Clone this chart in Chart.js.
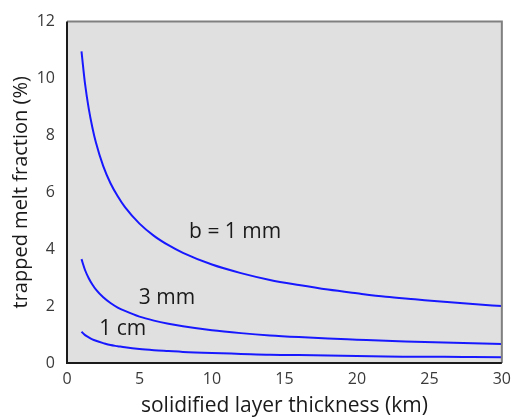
<!DOCTYPE html>
<html>
<head>
<meta charset="utf-8">
<script src="https://cdn.jsdelivr.net/npm/chart.js@4.4.0/dist/chart.umd.min.js"></script>
<style>
    html, body { margin: 0; padding: 0; background: #fff; }
    #wrap { width: 518px; height: 417px; }
</style>
</head>
<body>
<div id="wrap"><canvas id="chartMelt" width="518" height="417"></canvas></div>
<script>
// layer thickness (km)
const thickness = [1, 1.25, 1.5, 1.75, 2, 2.5, 3, 3.5, 4, 5, 6, 7, 8, 10, 12, 14, 16, 18, 20, 22, 24, 26, 28, 30]
// trapped melt fraction (%) for each b
const melt1mm = [10.95, 9.79, 8.94, 8.28, 7.74, 6.92, 6.32, 5.86, 5.48, 4.90, 4.47, 4.14, 3.87, 3.46, 3.16, 2.92, 2.74, 2.58, 2.45, 2.33, 2.24, 2.15, 2.07, 2.00]
const melt3mm = [3.65, 3.26, 2.98, 2.76, 2.58, 2.31, 2.11, 1.95, 1.83, 1.63, 1.49, 1.38, 1.29, 1.15, 1.05, 0.97, 0.91, 0.86, 0.82, 0.78, 0.75, 0.72, 0.69, 0.67]
const melt1cm = [1.10, 0.98, 0.90, 0.83, 0.78, 0.70, 0.63, 0.59, 0.55, 0.49, 0.45, 0.42, 0.39, 0.35, 0.32, 0.29, 0.28, 0.26, 0.25, 0.23, 0.22, 0.22, 0.21, 0.20]
const curveLabels = ['b = 1 mm', '3 mm', '1 cm']
const xTicks = [0, 5, 10, 15, 20, 25, 30]
const yTicks = [0, 2, 4, 6, 8, 10, 12]

const FONT = '"Open Sans", "Noto Sans", sans-serif'
const BLUE = '#1818ff'

function toPoints(ys) {
    return thickness.map((x, i) => ({ x: x, y: ys[i] }))
}

// grey plot background plus the frame
const frame = {
    id: 'frame',
    beforeDraw(chart) {
        const { ctx, chartArea: a } = chart
        ctx.save()
        ctx.fillStyle = '#e0e0e0'
        ctx.fillRect(a.left, a.top, a.right - a.left, a.bottom - a.top)
        ctx.restore()
    },
    afterDatasetsDraw(chart) {
        const { ctx, chartArea: a } = chart
        ctx.save()
        ctx.lineWidth = 2
        ctx.strokeStyle = '#808080'
        ctx.beginPath()
        ctx.moveTo(a.left, a.top)
        ctx.lineTo(a.right, a.top)
        ctx.lineTo(a.right, a.bottom)
        ctx.stroke()
        ctx.strokeStyle = '#1a1a1a'
        ctx.beginPath()
        ctx.moveTo(a.left, a.top)
        ctx.lineTo(a.left, a.bottom)
        ctx.lineTo(a.right, a.bottom)
        ctx.stroke()
        ctx.restore()
    }
}

// text next to each curve, placed in data units
const labelSpots = [[11.6, 4.6], [6.9, 2.27], [3.85, 1.19]]
const curveText = {
    id: 'curveText',
    afterDatasetsDraw(chart) {
        const { ctx, scales } = chart
        ctx.save()
        ctx.font = '21px ' + FONT
        ctx.fillStyle = '#1a1a1a'
        ctx.textAlign = 'center'
        ctx.textBaseline = 'middle'
        curveLabels.forEach((t, i) => {
            ctx.fillText(t, scales.x.getPixelForValue(labelSpots[i][0]), scales.y.getPixelForValue(labelSpots[i][1]))
        })
        ctx.restore()
    }
}

const series = [melt1mm, melt3mm, melt1cm]

const config = {
    type: 'line',
    data: {
        datasets: series.map((s, i) => ({
            label: curveLabels[i],
            data: toPoints(s),
            borderColor: BLUE,
            borderWidth: 2,
            pointRadius: 0,
            cubicInterpolationMode: 'monotone',
            fill: false
        }))
    },
    options: {
        responsive: false,
        animation: false,
        layout: { padding: { left: 0, right: 14, top: 19, bottom: 0 } },
        plugins: {
            legend: { display: false },
            tooltip: { enabled: false }
        },
        scales: {
            x: {
                type: 'linear',
                min: 0,
                max: 30,
                afterBuildTicks: axis => { axis.ticks = xTicks.map(v => ({ value: v })) },
                afterFit: axis => { axis.height = 54 },
                grid: { display: false, drawTicks: false },
                border: { display: false },
                ticks: { color: '#3a3a3a', font: { family: FONT, size: 16 }, padding: 7 },
                title: { display: true, text: 'solidified layer thickness (km)', color: '#1a1a1a', font: { family: FONT, size: 21, lineHeight: 1 }, padding: { top: 0, bottom: 0 } }
            },
            y: {
                type: 'linear',
                min: 0,
                max: 12,
                afterBuildTicks: axis => { axis.ticks = yTicks.map(v => ({ value: v })) },
                afterFit: axis => { axis.width = 67 },
                grid: { display: false, drawTicks: false },
                border: { display: false },
                ticks: { color: '#3a3a3a', font: { family: FONT, size: 16 }, padding: 12 },
                title: { display: true, text: 'trapped melt fraction (%)', color: '#1a1a1a', font: { family: FONT, size: 20, lineHeight: 1 }, padding: { top: 11, bottom: 0 } }
            }
        }
    },
    plugins: [frame, curveText]
}

var chartMelt = new Chart(document.getElementById('chartMelt'), config)
</script>
</body>
</html>
